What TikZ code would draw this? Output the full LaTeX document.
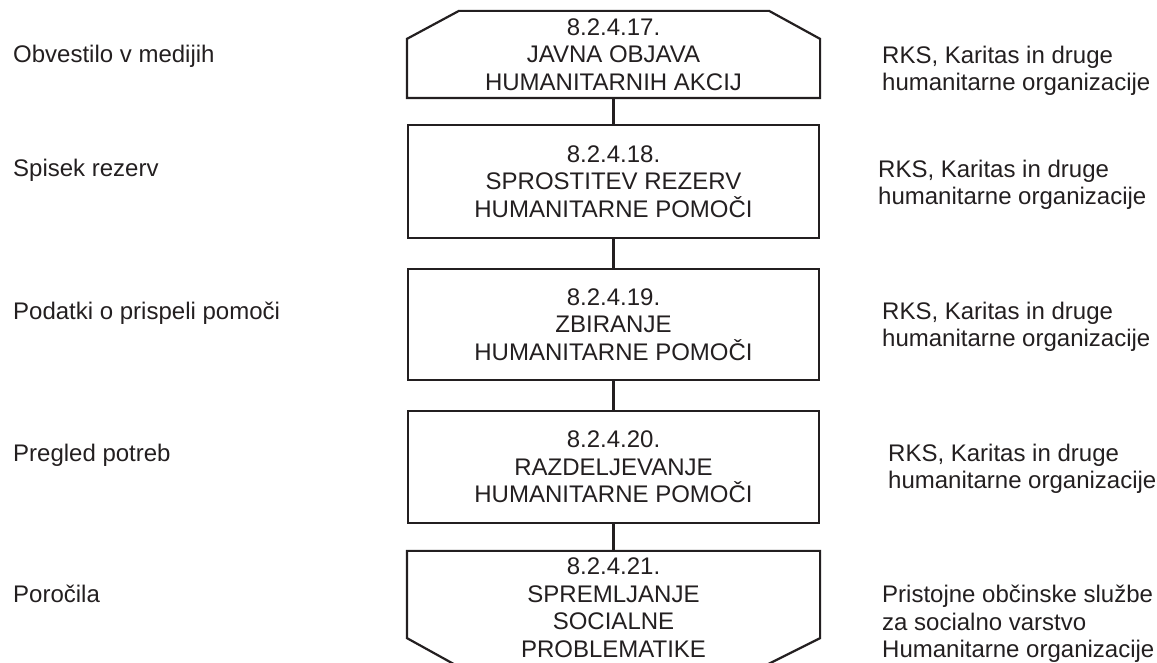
\documentclass[tikz,border=0pt]{standalone}
\usepackage{fontspec}
\setmainfont{Liberation Sans}
\definecolor{ink}{HTML}{231F20}

\begin{document}
\begin{tikzpicture}[x=1pt, y=1pt, color=ink,
    box/.style = {draw, rectangle, line width=2.2pt, minimum width=411pt, minimum height=112pt,
                  inner sep=0pt, align=center, font=\fontsize{24}{27.5}\selectfont},
    shell/.style = {box, draw=none},
    lab/.style = {anchor=base west, inner sep=0pt, align=left, font=\fontsize{24}{27.5}\selectfont},
    link/.style = {line width=2.2pt}]
        \useasboundingbox (0,0) rectangle (1157,663);
        % activity boxes
        \node[shell, minimum height=85pt] (b17) at (613.5,608.5) {8.2.4.17.\\JAVNA OBJAVA\\HUMANITARNIH AKCIJ};
        \node[box, minimum height=113pt] (b18) at (613.5,481.5) {8.2.4.18.\\SPROSTITEV REZERV\\HUMANITARNE POMOČI};
        \node[box, minimum height=111pt] (b19) at (613.5,338.5) {8.2.4.19.\\ZBIRANJE\\HUMANITARNE POMOČI};
        \node[box] (b20) at (613.5,196) {8.2.4.20.\\RAZDELJEVANJE\\HUMANITARNE POMOČI};
        \node[shell, minimum height=111pt] (b21) at (613.5,55.5) {8.2.4.21.\\SPREMLJANJE\\SOCIALNE\\PROBLEMATIKE};
        \draw[link] (b17.south west) -- ([yshift=-28pt]b17.north west) -- ([xshift=52pt]b17.north west)
            -- ([xshift=-51pt]b17.north east) -- ([yshift=-28pt]b17.north east) -- (b17.south east) -- cycle;
        \draw[link] ([xshift=47pt]b21.south west) -- ([yshift=26pt]b21.south west) -- (b21.north west)
            -- (b21.north east) -- ([yshift=26pt]b21.south east) -- ([xshift=-52pt]b21.south east);
        \draw[link] (b17) -- (b18);
        \draw[link] (b18) -- (b19);
        \draw[link] (b19) -- (b20);
        \draw[link] (b20) -- (b21);
        % inputs
        \node[lab] (l17) at (13,600) {Obvestilo v medijih};
        \node[lab] (l18) at (13,486) {Spisek rezerv};
        \node[lab] (l19) at (13,343) {Podatki o prispeli pomoči};
        \node[lab] (l20) at (13,201) {Pregled potreb};
        \node[lab] (l21) at (13,60) {Poročila};
        % responsible (base = last line)
        \node[lab] (r17) at (882,572) {RKS, Karitas in druge\\humanitarne organizacije};
        \node[lab] (r18) at (878,458) {RKS, Karitas in druge\\humanitarne organizacije};
        \node[lab] (r19) at (882,316) {RKS, Karitas in druge\\humanitarne organizacije};
        \node[lab] (r20) at (888,174) {RKS, Karitas in druge\\humanitarne organizacije};
        \node[lab] (r21) at (882,5) {Pristojne občinske službe\\za socialno varstvo\\Humanitarne organizacije};
      \end{tikzpicture}
\end{document}
